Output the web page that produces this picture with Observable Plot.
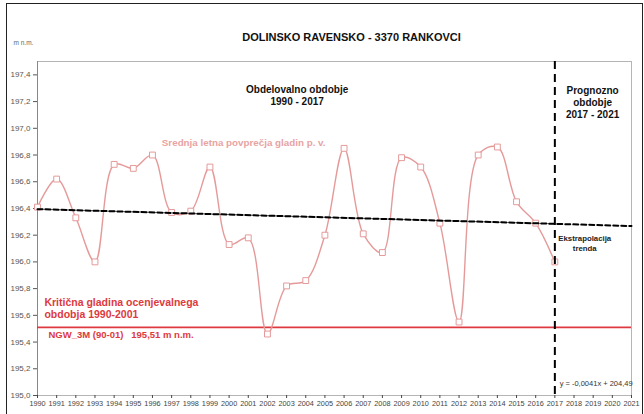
<!DOCTYPE html>
<html>
<head>
<meta charset="utf-8">
<script src="https://cdn.jsdelivr.net/npm/d3@7"></script>
<script src="https://cdn.jsdelivr.net/npm/@observablehq/plot@0.6"></script>
<style>
  html, body { margin: 0; padding: 0; background: white; }
  #wrap { position: relative; width: 644px; height: 414px; overflow: hidden; }
  #border { position: absolute; left: 6px; top: 3px; width: 635px; height: 430px;
            border: 1.5px solid #222; border-bottom: none; pointer-events: none; }
</style>
</head>
<body>
<div id="wrap"><div id="border"></div></div>
<script>
// Observed period
const years = [1990, 1991, 1992, 1993, 1994, 1995, 1996, 1997, 1998, 1999,
               2000, 2001, 2002, 2003, 2004, 2005, 2006, 2007, 2008, 2009,
               2010, 2011, 2012, 2013, 2014, 2015, 2016, 2017];
// Mean annual groundwater levels (m n.m.)
const levels = [196.41, 196.62, 196.33, 196.00, 196.73, 196.70, 196.80, 196.37, 196.38, 196.71,
                196.13, 196.18, 195.46, 195.82, 195.86, 196.20, 196.85, 196.21, 196.07, 196.78,
                196.71, 196.29, 195.55, 196.80, 196.86, 196.45, 196.29, 196.00];
// Linear trend (observed part + extrapolation)
const trendYears = [1990, 2017, 2021];
const trendLevels = [196.395, 196.285, 196.268];
// Critical level NGW_3M (90-01)
const criticalLevel = 195.51;
// Axis ticks
const yTicks = [195.0, 195.2, 195.4, 195.6, 195.8, 196.0, 196.2, 196.4, 196.6, 196.8, 197.0, 197.2, 197.4];
const xTicks = [1990, 1991, 1992, 1993, 1994, 1995, 1996, 1997, 1998, 1999, 2000, 2001, 2002, 2003,
                2004, 2005, 2006, 2007, 2008, 2009, 2010, 2011, 2012, 2013, 2014, 2015, 2016, 2017,
                2018, 2019, 2020, 2021];
const forecastStart = 2017;

const series = years.map((year, i) => ({year, level: levels[i]}));
const trend = trendYears.map((year, i) => ({year, level: trendLevels[i]}));
const trendObserved = trend.filter(d => d.year <= forecastStart);

const pink = "#e59a9a";
const red = "#dd3a40";

const chart = Plot.plot({
  width: 644,
  height: 414,
  marginLeft: 37,
  marginRight: 13,
  marginTop: 61,
  marginBottom: 19,
  x: {domain: [1990, 2021]},
  y: {domain: [195, 197.5]},
  style: {fontFamily: "'Liberation Sans', Arial, sans-serif", background: "white", overflow: "visible"},
  marks: [
    Plot.frame({stroke: "#b5b5b5"}),
    Plot.ruleX([1990], {stroke: "#888"}),
    Plot.axisY({ticks: yTicks, tickFormat: d => d.toFixed(1).replace(".", ","), tickSize: 4, tickPadding: 3,
                fontSize: 8, color: "#555", label: null}),
    Plot.axisX({ticks: xTicks, tickFormat: d => String(d), tickSize: 3, tickPadding: 2,
                fontSize: 7.3, color: "#444", label: null}),
    Plot.ruleY([criticalLevel], {stroke: red, strokeWidth: 1.8}),
    Plot.line(series, {x: "year", y: "level", curve: "catmull-rom", stroke: pink, strokeWidth: 1.4}),
    Plot.dot(series, {x: "year", y: "level", symbol: "square", r: 3.3, stroke: pink, fill: "white", strokeWidth: 1}),
    Plot.line(trendObserved, {x: "year", y: "level", stroke: "#888", strokeWidth: 1}),
    Plot.line(trend, {x: "year", y: "level", stroke: "black", strokeWidth: 2, strokeDasharray: "5,3"}),
    Plot.ruleX([forecastStart], {stroke: "black", strokeWidth: 2, strokeDasharray: "8,5"}),
    // Texts outside the plot area
    Plot.text(["DOLINSKO RAVENSKO - 3370 RANKOVCI"], {frameAnchor: "top", dx: 17, dy: -28,
      fontSize: 11, fontWeight: "bold", fill: "#111", style: "letter-spacing:-0.5px"}),
    Plot.text(["m n.m."], {frameAnchor: "top-left", dx: -24, dy: -21, textAnchor: "start", fontSize: 6.5, fill: "#666"}),
    // Annotations inside the plot
    Plot.text(["Obdelovalno obdobje\n1990 - 2017"], {x: 2003.55, y: 197.25, fontSize: 10, fontWeight: "bold",
      fill: "#111", lineHeight: 1.2}),
    Plot.text(["Prognozno\nobdobje\n2017 - 2021"], {x: 2018.97, y: 197.198, fontSize: 10, fontWeight: "bold",
      fill: "#111", lineHeight: 1.2}),
    Plot.text(["Ekstrapolacija\ntrenda"], {x: 2018.56, y: 196.14, fontSize: 7.8, fontWeight: "bold",
      fill: "#222", lineHeight: 1.25}),
    Plot.text(["Srednja letna povprečja gladin p. v."], {x: 2000.76, y: 196.89, fontSize: 9.8, fontWeight: "bold",
      fill: "#e8a3a3", style: "letter-spacing:0.35px;word-spacing:1px"}),
    Plot.text(["Kritična gladina ocenjevalnega\nobdobja 1990-2001"], {x: 1990.36, y: 195.654, textAnchor: "start",
      fontSize: 10.5, fontWeight: "bold", fill: red, lineHeight: 1.1, style: "letter-spacing:0.2px"}),
    Plot.text(["NGW_3M (90-01)   195,51 m n.m."], {x: 1990.57, y: 195.456, textAnchor: "start",
      fontSize: 9.5, fontWeight: "bold", fill: red, style: "white-space:pre;letter-spacing:0.2px"}),
    Plot.text(["y = -0,0041x + 204,49"], {x: 2017.25, y: 195.09, textAnchor: "start", fontSize: 7.5, fill: "#333"})
  ]
});
document.getElementById("wrap").prepend(chart);
</script>
</body>
</html>
